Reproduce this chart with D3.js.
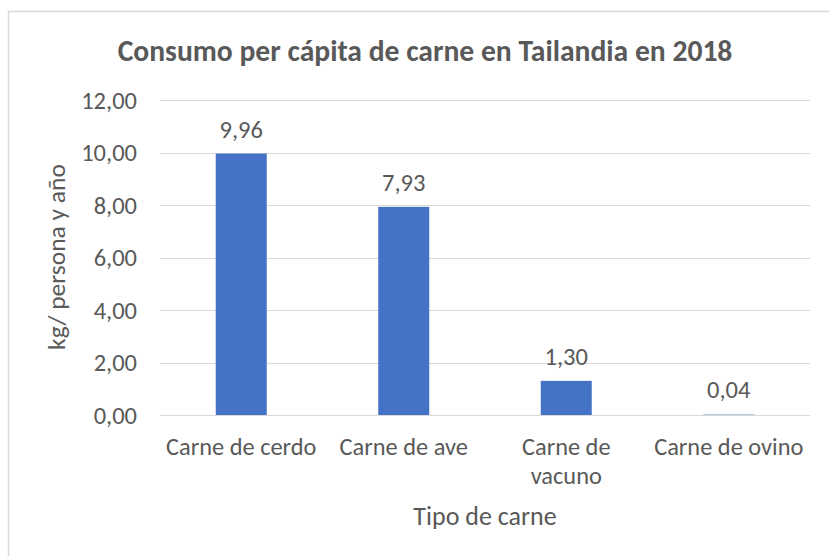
<!DOCTYPE html>
<html>
<head>
<meta charset="utf-8">
<script src="https://cdn.jsdelivr.net/npm/d3@7"></script>
<style>
  body { margin: 0; background: #fff; }
  text { font-family: Calibri, Carlito, Lato, sans-serif; fill: #595959; }
</style>
</head>
<body>
<svg id="chart" width="829" height="556"></svg>
<script>
// data
var categories = ['Carne de cerdo', 'Carne de ave', 'Carne de vacuno', 'Carne de ovino'];
var catLines = [['Carne de cerdo'], ['Carne de ave'], ['Carne de', 'vacuno'], ['Carne de ovino']];
var values = [9.96, 7.93, 1.30, 0.04];
var yTicks = [0, 2, 4, 6, 8, 10, 12];

var svg = d3.select('#chart');
var fmt = function(d) { return d3.format('.2f')(d).replace('.', ','); };

// chart area border (runs off the right / bottom of the picture)
svg.append('rect')
  .attr('x', 8.5).attr('y', 11.5)
  .attr('width', 900).attr('height', 600)
  .attr('fill', 'none').attr('stroke', '#d9d9d9').attr('stroke-width', 1.5);

var x = d3.scaleBand().domain(categories).range([160, 810]).padding(0);
var y = d3.scaleLinear().domain([0, 12]).range([415, 100]);
var barW = 51;

// gridlines
svg.append('g').selectAll('line')
  .data(yTicks).enter().append('line')
  .attr('x1', 160).attr('x2', 810)
  .attr('y1', function(d) { return Math.round(y(d)) + 0.5; })
  .attr('y2', function(d) { return Math.round(y(d)) + 0.5; })
  .attr('stroke', '#d9d9d9').attr('stroke-width', 1);

// y tick labels
svg.append('g').selectAll('text')
  .data(yTicks).enter().append('text')
  .attr('x', 137).attr('y', function(d) { return y(d); })
  .attr('dy', '0.35em')
  .attr('text-anchor', 'end')
  .style('font-size', '24.5px')
  .text(fmt);

// bars
svg.append('g').selectAll('rect')
  .data(values).enter().append('rect')
  .attr('x', function(d, i) { return x(categories[i]) + x.bandwidth() / 2 - barW / 2; })
  .attr('y', function(d) { return y(d); })
  .attr('width', barW)
  .attr('height', function(d) { return Math.max(y(0) - y(d), 1); })
  .attr('fill', function(d) { return d < 0.1 ? '#b4c7e7' : '#4472c4'; });

// value labels
svg.append('g').selectAll('text')
  .data(values).enter().append('text')
  .attr('x', function(d, i) { return x(categories[i]) + x.bandwidth() / 2; })
  .attr('y', function(d) { return y(d) - 16; })
  .attr('text-anchor', 'middle')
  .style('font-size', '24.5px')
  .text(fmt);

// category labels
var cat = svg.append('g').selectAll('text')
  .data(catLines).enter().append('text')
  .attr('text-anchor', 'middle')
  .attr('x', function(d, i) { return x(categories[i]) + x.bandwidth() / 2; })
  .attr('y', 455)
  .style('font-size', '24.4px');
cat.selectAll('tspan')
  .data(function(d) { return d; }).enter().append('tspan')
  .attr('x', function() { return d3.select(this.parentNode).attr('x'); })
  .attr('dy', function(d, i) { return i ? 29 : 0; })
  .text(function(d) { return d; });

// axis titles
svg.append('text')
  .attr('x', 485).attr('y', 525)
  .attr('text-anchor', 'middle')
  .style('font-size', '26px')
  .text('Tipo de carne');

svg.append('text')
  .attr('transform', 'translate(65,257) rotate(-90)')
  .attr('text-anchor', 'middle')
  .style('font-size', '25.5px')
  .text('kg/ persona y año');

// title
svg.append('text')
  .attr('x', 425).attr('y', 61)
  .attr('text-anchor', 'middle')
  .style('font-size', '29.6px')
  .style('font-weight', 'bold')
  .text('Consumo per cápita de carne en Tailandia en 2018');
</script>
</body>
</html>
